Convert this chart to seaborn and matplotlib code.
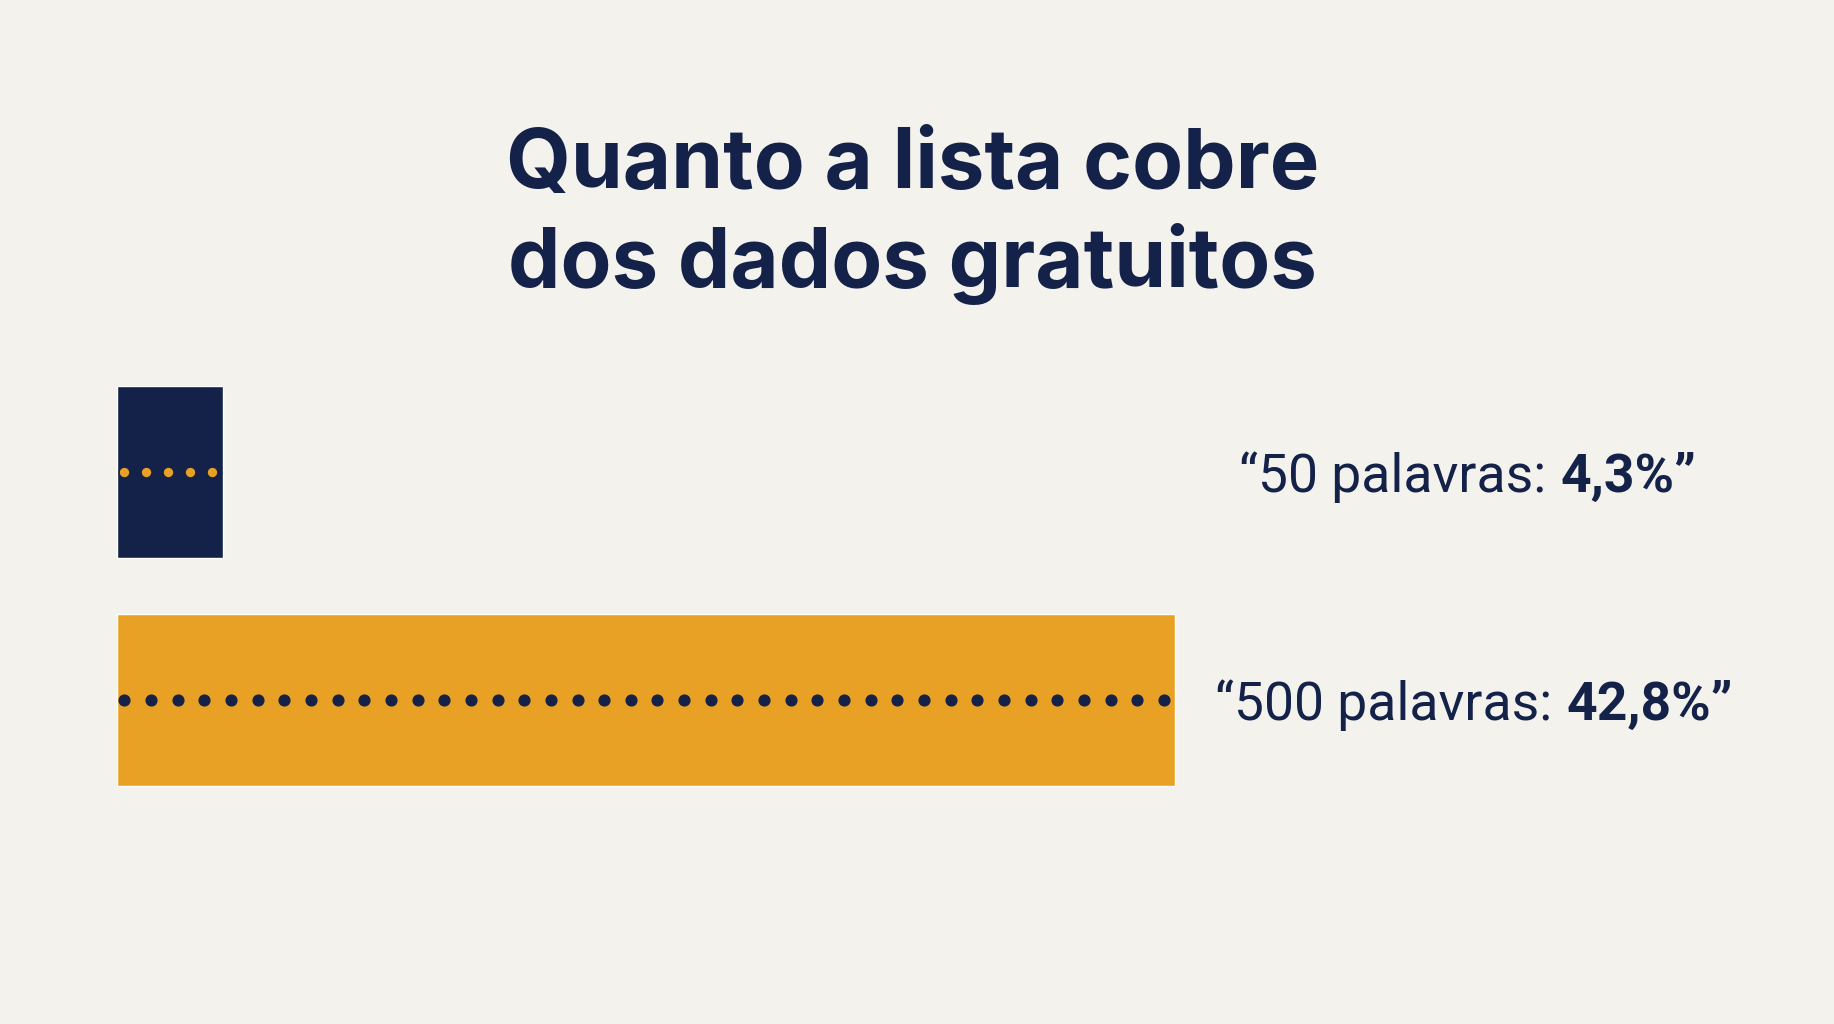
import numpy as np
import pandas as pd
import seaborn as sns
from matplotlib import pyplot as plt

categories = ["50 palavras", "500 palavras"]
values = [4.3, 42.8]
value_labels = ["4,3%", "42,8%"]
title = "Quanto a lista cobre\ndos dados gratuitos"

NAVY = "#14224a"
GOLD = "#e8a125"
BG = "#f4f2ec"

sns.set_theme(style="white")
plt.rcParams["font.family"] = ["Inter", "DejaVu Sans"]
label_font = ["Roboto", "DejaVu Sans"]

df = pd.DataFrame({"cat": categories, "val": values})

fig = plt.figure(figsize=(18.34, 10.24), dpi=100, facecolor=BG)
ax = fig.add_axes([0, 0, 1, 1])
ax.set_facecolor(BG)

sns.barplot(data=df, x="val", y="cat", hue="cat", palette=[NAVY, GOLD],
            orient="h", width=0.754, legend=False, ax=ax, saturation=1)

# pixel mapping: bar start at 117px, 42.8 -> 1175px
scale = (1175 - 117) / 42.8
ax.set_xlim(-117 / scale, (1834 - 117) / scale)
ax.set_ylim((1024 - 472) / 228, -472 / 228)
ax.axis("off")

# dotted lines inside bars
n_dots = [5, 40]
dot_colors = [GOLD, NAVY]
for i, v in enumerate(values):
    xs = np.linspace(0.3, v - 0.45, n_dots[i])
    ax.scatter(xs, np.full_like(xs, i), s=60, color=dot_colors[i],
               edgecolor=NAVY, linewidth=1.0, zorder=3)

# labels
split_x = [1546, 1552]
for i, (c, lab) in enumerate(zip(categories, value_labels)):
    xr = (split_x[i] - 117) / scale
    ax.text(xr, i, "\u201c" + c + ":", ha="right", va="center_baseline",
            fontsize=38.5, color=NAVY, family=label_font)
    ax.text(xr + 15 / scale, i, lab + "\u201d", ha="left", va="center_baseline",
            fontsize=38.5, color=NAVY, fontweight="bold", family=label_font)

fig.text(0.4975, 1 - 216 / 1024, title, ha="center", va="center",
         fontsize=60, fontweight="bold", color=NAVY, linespacing=1.27)

fig.savefig("out.png", dpi=100, facecolor=BG)
